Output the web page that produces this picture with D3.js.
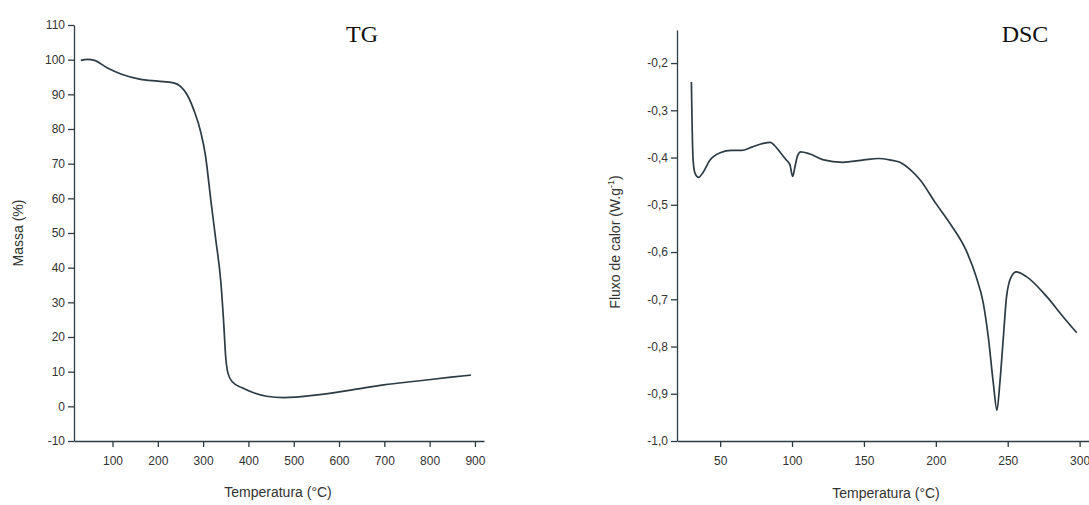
<!DOCTYPE html>
<html>
<head>
<meta charset="utf-8">
<script src="https://cdn.jsdelivr.net/npm/d3@7"></script>
<style>
  body { margin: 0; background: #fff; }
  svg { display: block; }
  .tick text { font-family: "Liberation Sans Narrow", "Liberation Sans", Arial, sans-serif; font-size: 12px; fill: #333; }
  .axis path, .axis line { stroke: #2e3b42; stroke-width: 1.3; }
  .lbl { font-family: "Liberation Sans", Arial, sans-serif; font-size: 14px; fill: #333; }
  .ttl { font-family: "Liberation Serif", "Times New Roman", serif; font-size: 24px; fill: #111; }
</style>
</head>
<body>
<svg width="1089" height="505"></svg>
<script>
// TG curve: temperature (°C) vs mass (%)
const tgTemp = [30, 45, 60, 90, 120, 160, 200, 235, 250, 265, 280, 295, 305, 317, 328, 339, 345, 350, 355, 365, 385, 410, 440, 478, 552, 626, 699, 773, 847, 891];
const tgMass = [99.8, 100.1, 99.8, 97.5, 95.8, 94.4, 93.8, 93.3, 92.3, 89.8, 85.3, 79, 72.5, 59.5, 48, 36, 25, 14, 9.5, 7, 5.4, 4.0, 2.9, 2.5, 3.3, 4.7, 6.2, 7.3, 8.4, 9.0];

// DSC curve: temperature (°C) vs heat flow (W/g)
const dscTemp = [30, 30.5, 31.2, 32.5, 35, 38, 43, 50, 58, 65, 72, 80, 85, 88, 92, 96, 98.5, 100.5, 102, 104, 106, 112, 122, 135, 150, 160, 168, 175, 182, 189, 200, 210, 221, 228, 233, 236.5, 240, 242.5, 244.5, 247, 249.2, 252.5, 256, 263, 277, 288.5, 298];
const dscFlow = [-0.24, -0.33, -0.405, -0.433, -0.442, -0.432, -0.405, -0.39, -0.385, -0.385, -0.378, -0.37, -0.368, -0.375, -0.39, -0.405, -0.415, -0.44, -0.42, -0.395, -0.388, -0.392, -0.405, -0.41, -0.405, -0.402, -0.405, -0.41, -0.425, -0.447, -0.497, -0.54, -0.596, -0.652, -0.708, -0.78, -0.878, -0.935, -0.878, -0.779, -0.694, -0.652, -0.642, -0.652, -0.694, -0.737, -0.771];

const tgXTicks = [100, 200, 300, 400, 500, 600, 700, 800, 900];
const tgYTicks = [-10, 0, 10, 20, 30, 40, 50, 60, 70, 80, 90, 100, 110];
const dscXTicks = [50, 100, 150, 200, 250, 300];
const dscYTicks = [-1.0, -0.9, -0.8, -0.7, -0.6, -0.5, -0.4, -0.3, -0.2];

const CURVE_COLOR = '#2c3b44';
const svg = d3.select('svg');

// plain hyphen for negatives, comma decimals on the DSC axis
const locPt = d3.formatLocale({ decimal: ',', thousands: '.', grouping: [3], currency: ['', ''], minus: '-' });
const locEn = d3.formatLocale({ decimal: '.', thousands: ',', grouping: [3], currency: ['', ''], minus: '-' });

function drawPanel(opt) {
    const x = d3.scaleLinear().domain(opt.xDomain).range(opt.xRange);
    const y = d3.scaleLinear().domain(opt.yDomain).range(opt.yRange);

    svg.append('g')
        .attr('class', 'axis')
        .attr('transform', `translate(0,${opt.yRange[0]})`)
        .call(d3.axisBottom(x).tickValues(opt.xTicks).tickSize(6).tickSizeOuter(0).tickPadding(9));

    svg.append('g')
        .attr('class', 'axis')
        .attr('transform', `translate(${opt.xRange[0]},0)`)
        .call(d3.axisLeft(y).tickValues(opt.yTicks).tickSize(6).tickSizeOuter(0).tickPadding(3)
            .tickFormat(opt.yFormat));

    const line = d3.line()
        .x(d => x(d[0]))
        .y(d => y(d[1]))
        .curve(d3.curveMonotoneX);

    svg.append('path')
        .datum(d3.zip(opt.xs, opt.ys))
        .attr('d', line)
        .attr('fill', 'none')
        .attr('stroke', CURVE_COLOR)
        .attr('stroke-width', 1.7)
        .attr('stroke-linejoin', 'round');

    // x axis title
    svg.append('text')
        .attr('class', 'lbl')
        .attr('x', opt.xLabelPos[0])
        .attr('y', opt.xLabelPos[1])
        .attr('text-anchor', 'middle')
        .text('Temperatura (°C)');

    // panel title
    svg.append('text')
        .attr('class', 'ttl')
        .attr('x', opt.titlePos[0])
        .attr('y', opt.titlePos[1])
        .attr('text-anchor', 'middle')
        .text(opt.title);

    return svg.append('text')
        .attr('class', 'lbl')
        .attr('text-anchor', 'middle')
        .attr('transform', `translate(${opt.yLabelPos[0]},${opt.yLabelPos[1]}) rotate(-90)`);
}

const tgLabel = drawPanel({
    xDomain: [15, 920], xRange: [74, 484],
    yDomain: [-10, 110], yRange: [441, 25],
    xTicks: tgXTicks, yTicks: tgYTicks,
    yFormat: locEn.format('d'),
    xs: tgTemp, ys: tgMass,
    xLabelPos: [278, 497], titlePos: [362, 42], title: 'TG',
    yLabelPos: [23, 233]
});
tgLabel.text('Massa (%)');

const dscLabel = drawPanel({
    xDomain: [20, 310], xRange: [677, 1094],
    yDomain: [-1.0, -0.13], yRange: [441, 30],
    xTicks: dscXTicks, yTicks: dscYTicks,
    yFormat: locPt.format('.1f'),
    xs: dscTemp, ys: dscFlow,
    xLabelPos: [886, 498], titlePos: [1025, 42], title: 'DSC',
    yLabelPos: [620, 242]
});
dscLabel.append('tspan').text('Fluxo de calor (W.g');
dscLabel.append('tspan').attr('dy', -6).attr('font-size', 9).text('-1');
dscLabel.append('tspan').attr('dy', 6).text(')');
</script>
</body>
</html>
